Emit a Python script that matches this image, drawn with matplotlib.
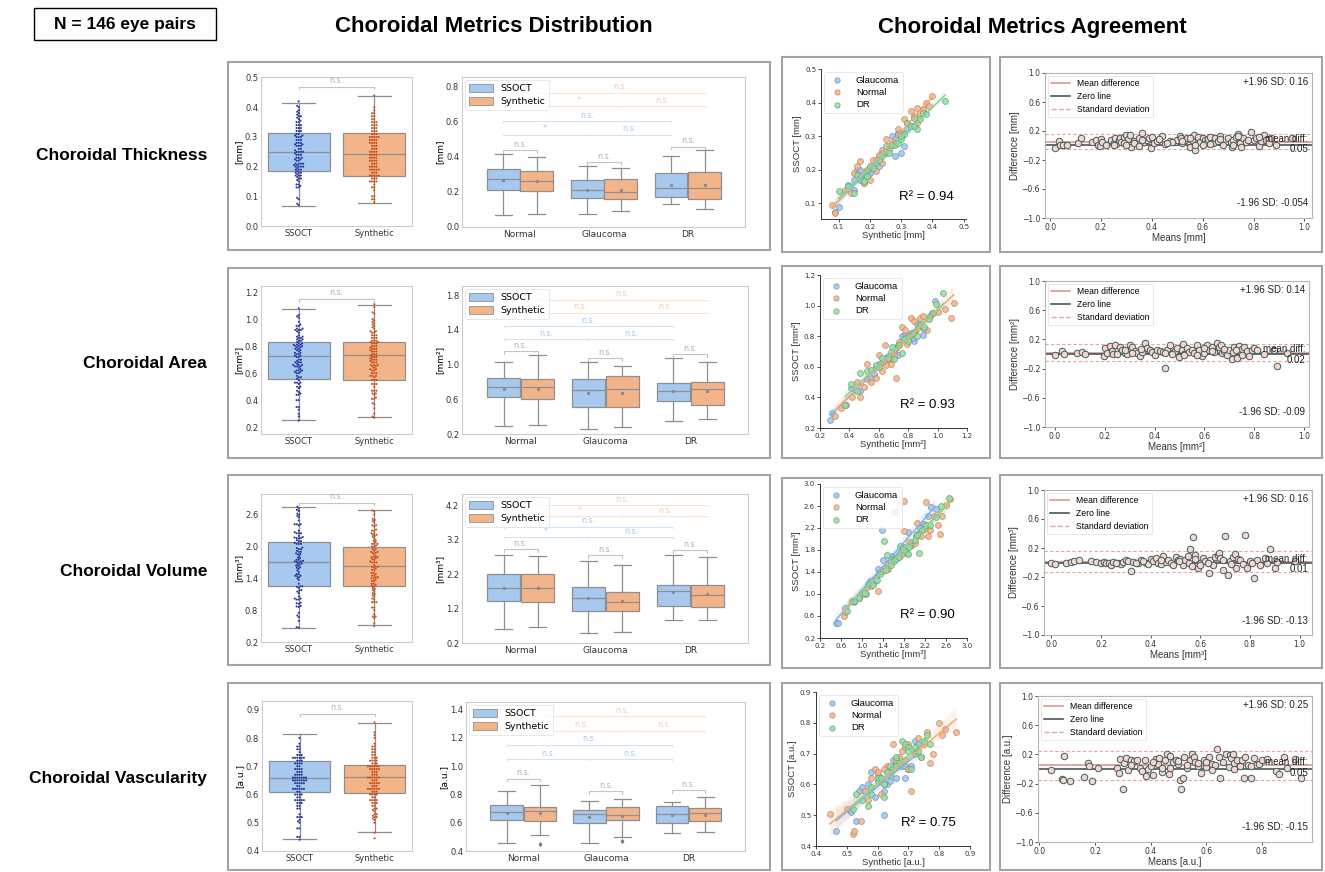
import numpy as np
import pandas as pd
import matplotlib
matplotlib.use('Agg')
import matplotlib.pyplot as plt
import seaborn as sns
from matplotlib.patches import Rectangle, Patch
from matplotlib.lines import Line2D

W, H = 1325, 872
plt.rcParams['font.family'] = ['DejaVu Sans']
ARIAL = ['Liberation Sans', 'DejaVu Sans']

metrics = ['Choroidal Thickness', 'Choroidal Area', 'Choroidal Volume', 'Choroidal Vascularity']
units = ['[mm]', '[mm²]', '[mm³]', '[a.u.]']
r2_vals = ['0.94', '0.93', '0.90', '0.75']
groups = ['Normal', 'Glaucoma', 'DR']
sc_groups = ['Glaucoma', 'Normal', 'DR']

# ---- agreement scatter: (synthetic, ssoct) per eye ----
thk_pts = {
    'Glaucoma': [(0.09,0.075),(0.10,0.09),(0.13,0.155),(0.15,0.14),(0.16,0.20),(0.17,0.17),(0.18,0.16),(0.19,0.19),(0.20,0.205),(0.21,0.21),(0.22,0.225),(0.23,0.21),(0.24,0.26),(0.25,0.25),(0.26,0.27),(0.27,0.30),(0.28,0.24),(0.29,0.31),(0.30,0.25),(0.31,0.27),(0.32,0.32),(0.15,0.17),(0.19,0.18),(0.22,0.23),(0.25,0.255),(0.28,0.29),(0.17,0.20),(0.29,0.305),(0.33,0.33),(0.20,0.19)],
    'Normal': [(0.08,0.095),(0.09,0.07),(0.12,0.14),(0.14,0.13),(0.15,0.19),(0.16,0.21),(0.17,0.225),(0.18,0.16),(0.19,0.20),(0.20,0.17),(0.21,0.23),(0.22,0.195),(0.23,0.24),(0.24,0.25),(0.25,0.29),(0.26,0.26),(0.27,0.28),(0.28,0.28),(0.29,0.32),(0.30,0.30),(0.31,0.35),(0.32,0.34),(0.33,0.375),(0.34,0.36),(0.35,0.385),(0.36,0.37),(0.37,0.38),(0.38,0.40),(0.39,0.39),(0.40,0.42),(0.17,0.18),(0.23,0.245),(0.30,0.31),(0.35,0.34),(0.24,0.22)],
    'DR': [(0.10,0.135),(0.13,0.15),(0.15,0.13),(0.16,0.185),(0.17,0.175),(0.18,0.165),(0.19,0.18),(0.20,0.21),(0.21,0.205),(0.22,0.22),(0.24,0.24),(0.25,0.27),(0.26,0.25),(0.27,0.275),(0.28,0.275),(0.29,0.28),(0.30,0.29),(0.31,0.305),(0.32,0.34),(0.33,0.33),(0.34,0.355),(0.35,0.32),(0.36,0.35),(0.37,0.37),(0.38,0.365),(0.44,0.405),(0.23,0.23),(0.30,0.30),(0.34,0.33),(0.19,0.20)],
}
area_pts = {
    'Glaucoma': [(0.27,0.25),(0.28,0.30),(0.41,0.46),(0.44,0.45),(0.47,0.44),(0.52,0.52),(0.55,0.53),(0.58,0.60),(0.60,0.62),(0.63,0.63),(0.66,0.67),(0.68,0.65),(0.70,0.70),(0.72,0.73),(0.74,0.75),(0.76,0.80),(0.78,0.81),(0.80,0.78),(0.82,0.82),(0.84,0.77),(0.86,0.88),(0.88,0.87),(0.90,0.81),(0.95,0.93),(0.98,1.03),(0.65,0.66),(0.73,0.68),(0.83,0.79),(0.57,0.55),(0.91,0.85)],
    'Normal': [(0.30,0.28),(0.34,0.33),(0.38,0.35),(0.42,0.40),(0.45,0.50),(0.47,0.40),(0.50,0.47),(0.52,0.62),(0.55,0.50),(0.58,0.53),(0.60,0.68),(0.62,0.57),(0.64,0.74),(0.66,0.65),(0.68,0.62),(0.70,0.68),(0.72,0.53),(0.74,0.76),(0.76,0.86),(0.78,0.84),(0.80,0.80),(0.82,0.92),(0.84,0.90),(0.86,0.85),(0.88,0.92),(0.90,0.93),(0.93,0.84),(0.96,0.95),(1.00,0.96),(1.05,0.98),(1.09,0.92),(1.11,1.02),(0.71,0.72),(0.79,0.75),(0.65,0.61)],
    'DR': [(0.37,0.35),(0.41,0.49),(0.45,0.44),(0.47,0.56),(0.52,0.57),(0.55,0.58),(0.58,0.61),(0.60,0.60),(0.63,0.64),(0.66,0.66),(0.68,0.70),(0.70,0.65),(0.72,0.72),(0.74,0.74),(0.76,0.69),(0.78,0.79),(0.80,0.77),(0.82,0.81),(0.84,0.83),(0.86,0.80),(0.88,0.87),(0.91,0.86),(0.94,0.91),(0.97,0.95),(0.99,1.01),(1.04,1.08),(0.69,0.73),(0.77,0.78),(0.83,0.82),(0.62,0.66)],
}
vol_pts = {
    'Glaucoma': [(0.50,0.47),(0.55,0.48),(0.68,0.75),(0.85,0.86),(1.00,1.02),(1.08,1.00),(1.15,1.24),(1.22,1.22),(1.30,1.45),(1.38,2.16),(1.40,1.61),(1.50,1.55),(1.58,1.70),(1.62,2.49),(1.70,1.72),(1.80,1.85),(1.88,2.12),(1.95,1.95),(2.02,2.05),(2.10,2.20),(2.18,2.27),(2.25,2.42),(2.32,2.58),(2.40,2.55),(1.26,1.30),(1.45,1.48),(1.75,1.79),(2.05,2.10),(0.95,0.92),(1.62,1.66)],
    'Normal': [(0.65,0.60),(0.68,0.67),(0.80,0.88),(0.95,0.94),(1.02,1.00),(1.10,1.12),(1.18,1.15),(1.25,1.25),(1.30,1.06),(1.35,1.40),(1.42,1.48),(1.50,1.45),(1.56,1.58),(1.62,1.64),(1.70,1.68),(1.76,1.73),(1.80,2.69),(1.85,1.75),(1.90,1.95),(1.95,1.90),(2.00,1.92),(2.05,2.30),(2.12,2.05),(2.20,2.18),(2.25,2.05),(2.30,2.16),(2.38,2.42),(2.45,2.25),(2.52,2.42),(2.60,2.62),(2.68,2.72),(1.80,2.15),(2.22,2.67),(1.40,1.42),(2.48,2.10)],
    'DR': [(0.72,0.70),(0.85,0.87),(0.95,0.93),(1.05,1.02),(1.12,1.18),(1.20,1.17),(1.28,1.25),(1.35,1.37),(1.42,1.97),(1.48,1.71),(1.55,1.52),(1.60,1.60),(1.65,1.63),(1.72,1.87),(1.78,1.82),(1.82,1.78),(1.88,1.72),(1.92,1.90),(2.00,1.98),(2.08,1.75),(2.15,2.17),(2.22,2.25),(2.30,2.25),(2.40,2.40),(2.50,2.60),(2.66,2.75),(1.45,1.44),(1.70,1.67),(1.90,1.86),(2.05,2.07)],
}
vasc_pts = {
    'Glaucoma': [(0.465,0.45),(0.51,0.52),(0.515,0.51),(0.53,0.48),(0.54,0.58),(0.55,0.59),(0.57,0.60),(0.58,0.64),(0.59,0.56),(0.60,0.61),(0.61,0.62),(0.62,0.50),(0.62,0.58),(0.63,0.60),(0.64,0.61),(0.65,0.68),(0.66,0.67),(0.67,0.66),(0.68,0.66),(0.69,0.62),(0.70,0.65),(0.71,0.66),(0.72,0.74),(0.73,0.73),(0.64,0.64),(0.66,0.62),(0.69,0.66),(0.56,0.58),(0.60,0.63),(0.70,0.65)],
    'Normal': [(0.445,0.505),(0.50,0.52),(0.52,0.44),(0.525,0.45),(0.545,0.48),(0.56,0.58),(0.57,0.55),(0.58,0.62),(0.59,0.65),(0.60,0.64),(0.61,0.57),(0.62,0.60),(0.63,0.66),(0.64,0.64),(0.65,0.73),(0.66,0.67),(0.67,0.69),(0.68,0.71),(0.69,0.72),(0.70,0.73),(0.71,0.58),(0.72,0.71),(0.73,0.75),(0.74,0.69),(0.75,0.73),(0.76,0.77),(0.77,0.67),(0.78,0.70),(0.80,0.80),(0.81,0.76),(0.82,0.78),(0.855,0.77),(0.66,0.68),(0.70,0.65),(0.62,0.65)],
    'DR': [(0.52,0.52),(0.53,0.57),(0.55,0.55),(0.57,0.53),(0.58,0.59),(0.60,0.62),(0.61,0.62),(0.62,0.56),(0.63,0.64),(0.64,0.66),(0.65,0.65),(0.66,0.69),(0.67,0.67),(0.68,0.74),(0.69,0.73),(0.70,0.72),(0.71,0.65),(0.72,0.70),(0.73,0.71),(0.74,0.69),(0.75,0.74),(0.76,0.76),(0.77,0.73),(0.62,0.60),(0.66,0.66),(0.69,0.68),(0.72,0.72),(0.58,0.57),(0.64,0.63),(0.70,0.71)],
}
all_pts = [thk_pts, area_pts, vol_pts, vasc_pts]

# ---- Bland-Altman: (means, difference) ----
ba_thk = [(0.02,-0.03),(0.035,0.06),(0.04,0.0),(0.05,0.0),(0.065,0.0),(0.11,0.04),(0.12,0.11),(0.165,0.05),(0.18,0.08),(0.19,0.0),(0.195,-0.01),(0.20,0.09),(0.205,0.05),(0.22,0.0),(0.24,0.07),(0.25,0.04),(0.255,0.10),(0.26,0.02),(0.27,0.08),(0.275,0.11),(0.28,0.05),(0.29,0.12),(0.30,0.14),(0.305,0.09),(0.31,0.0),(0.315,0.15),(0.32,-0.02),(0.33,0.06),(0.34,0.03),(0.35,0.10),(0.36,0.17),(0.37,0.05),(0.38,0.08),(0.39,0.10),(0.395,-0.03),(0.40,0.12),(0.41,0.04),(0.42,0.06),(0.44,0.13),(0.45,0.02),(0.47,0.06),(0.49,0.05),(0.50,0.07),(0.51,0.13),(0.515,0.10),(0.52,0.03),(0.53,0.07),(0.54,0.10),(0.55,-0.02),(0.56,0.08),(0.565,0.14),(0.57,-0.06),(0.58,0.12),(0.59,0.05),(0.60,0.10),(0.61,0.07),(0.615,0.03),(0.62,0.09),(0.63,0.12),(0.64,0.04),(0.65,0.10),(0.66,0.06),(0.67,0.13),(0.68,0.0),(0.70,0.10),(0.71,0.05),(0.715,-0.02),(0.72,0.08),(0.73,0.12),(0.74,0.16),(0.745,0.03),(0.75,-0.02),(0.76,0.11),(0.77,0.05),(0.78,0.07),(0.79,0.19),(0.80,0.08),(0.81,0.10),(0.82,-0.01),(0.83,0.06),(0.84,0.14),(0.85,0.08),(0.86,0.04),(0.87,0.11),(0.89,0.0),(0.95,0.10),(0.25,0.0),(0.33,0.04),(0.43,0.09),(0.52,0.06),(0.63,0.02),(0.74,0.13),(0.57,0.01),(0.36,0.08),(0.29,0.03),(0.48,0.05),(0.30,0.0),(0.46,0.03),(0.67,0.09),(0.72,0.0),(0.82,0.12),(0.35,-0.01),(0.55,0.11),(0.60,0.0)]
ba_area = [(0.0,-0.01),(0.03,0.04),(0.035,0.0),(0.09,0.02),(0.11,0.03),(0.12,0.0),(0.195,-0.03),(0.20,0.08),(0.21,0.02),(0.22,0.11),(0.23,0.04),(0.235,0.0),(0.24,0.12),(0.26,0.09),(0.27,0.05),(0.28,0.02),(0.29,0.0),(0.30,0.13),(0.305,0.07),(0.31,0.10),(0.32,0.04),(0.33,0.01),(0.34,-0.03),(0.35,0.03),(0.36,0.15),(0.37,0.08),(0.38,0.05),(0.39,0.03),(0.40,-0.02),(0.41,0.06),(0.42,0.04),(0.435,0.03),(0.44,-0.19),(0.45,0.06),(0.46,0.12),(0.47,0.02),(0.48,0.04),(0.49,0.08),(0.50,-0.04),(0.51,0.05),(0.515,0.14),(0.52,0.0),(0.53,0.08),(0.54,0.03),(0.55,0.06),(0.56,0.01),(0.57,0.13),(0.58,0.06),(0.59,-0.03),(0.60,0.02),(0.61,0.13),(0.62,0.05),(0.63,0.09),(0.64,0.03),(0.65,0.15),(0.66,0.10),(0.665,0.12),(0.67,0.02),(0.68,0.04),(0.69,-0.01),(0.70,0.06),(0.71,-0.07),(0.715,0.03),(0.72,0.10),(0.73,-0.06),(0.735,0.08),(0.74,0.11),(0.745,0.02),(0.75,0.07),(0.76,0.09),(0.77,0.04),(0.78,-0.03),(0.79,0.06),(0.80,0.08),(0.81,0.05),(0.84,0.0),(0.88,0.06),(0.89,-0.17),(0.93,0.01),(0.25,0.0),(0.345,0.07),(0.44,0.02),(0.57,-0.02),(0.63,0.04),(0.725,0.05),(0.52,-0.01),(0.31,0.02),(0.68,0.07),(0.47,0.0),(0.60,0.08),(0.75,-0.02),(0.28,0.06)]
ba_vol = [(0.0,0.0),(0.015,-0.02),(0.06,-0.01),(0.08,0.01),(0.09,0.02),(0.11,0.03),(0.16,0.02),(0.18,0.01),(0.20,0.0),(0.21,0.01),(0.22,-0.01),(0.23,0.0),(0.24,-0.03),(0.25,0.01),(0.27,0.0),(0.28,-0.02),(0.29,0.01),(0.30,0.04),(0.31,0.02),(0.32,-0.12),(0.33,0.01),(0.35,-0.01),(0.36,0.03),(0.38,0.0),(0.39,-0.02),(0.40,0.05),(0.41,0.02),(0.42,0.06),(0.43,0.0),(0.44,-0.02),(0.45,0.09),(0.46,0.01),(0.47,0.04),(0.48,-0.01),(0.50,0.07),(0.51,0.03),(0.52,0.05),(0.53,-0.04),(0.54,0.04),(0.55,0.09),(0.555,0.0),(0.56,0.19),(0.565,-0.05),(0.57,0.35),(0.58,0.10),(0.59,-0.08),(0.60,0.0),(0.61,0.06),(0.62,0.02),(0.635,-0.15),(0.64,0.04),(0.65,-0.04),(0.66,0.08),(0.67,0.10),(0.675,0.13),(0.68,0.06),(0.69,-0.10),(0.70,0.37),(0.71,-0.17),(0.72,0.02),(0.73,0.08),(0.74,0.12),(0.745,-0.07),(0.75,0.05),(0.76,0.04),(0.77,-0.02),(0.78,0.38),(0.79,-0.08),(0.80,0.02),(0.815,-0.21),(0.83,0.04),(0.84,-0.04),(0.87,0.0),(0.88,0.18),(0.90,-0.07),(0.91,0.01),(0.98,0.02),(0.26,-0.01),(0.37,0.02),(0.49,-0.03),(0.58,0.05),(0.63,0.0),(0.725,-0.02),(0.86,0.06),(0.515,0.02),(0.44,0.03),(0.60,-0.04),(0.69,0.03),(0.34,0.0),(0.81,0.0)]
ba_vasc = [(0.04,-0.02),(0.08,-0.14),(0.085,-0.15),(0.09,0.18),(0.11,-0.16),(0.16,-0.11),(0.175,0.08),(0.18,0.04),(0.19,-0.17),(0.21,0.01),(0.28,0.02),(0.285,-0.06),(0.29,0.14),(0.30,-0.27),(0.305,0.08),(0.31,0.15),(0.32,-0.01),(0.33,0.12),(0.34,0.11),(0.35,0.13),(0.36,0.02),(0.37,-0.03),(0.38,0.13),(0.385,-0.10),(0.39,0.0),(0.40,0.04),(0.41,-0.08),(0.42,0.14),(0.425,0.07),(0.43,0.15),(0.44,-0.04),(0.45,0.12),(0.46,0.20),(0.465,-0.07),(0.47,0.18),(0.48,0.10),(0.49,0.13),(0.50,0.07),(0.505,-0.15),(0.51,-0.27),(0.515,-0.12),(0.52,0.17),(0.53,0.02),(0.54,0.13),(0.55,0.20),(0.555,0.16),(0.56,0.09),(0.57,0.04),(0.58,-0.05),(0.59,0.12),(0.60,0.03),(0.61,0.17),(0.62,0.07),(0.63,0.05),(0.64,0.27),(0.645,0.16),(0.65,-0.13),(0.66,0.10),(0.67,0.20),(0.68,0.03),(0.685,0.19),(0.69,0.15),(0.695,0.20),(0.70,0.08),(0.71,0.13),(0.72,0.04),(0.73,0.12),(0.735,-0.12),(0.74,0.16),(0.75,0.06),(0.76,-0.12),(0.77,0.15),(0.78,0.05),(0.79,0.07),(0.80,0.13),(0.82,0.14),(0.85,-0.03),(0.86,-0.07),(0.88,0.16),(0.89,0.02),(0.92,0.14),(0.94,-0.12),(0.33,0.06),(0.44,0.02),(0.53,0.05),(0.60,0.10),(0.70,0.0),(0.57,0.08),(0.47,0.01),(0.76,0.04),(0.41,0.09),(0.62,-0.02),(0.50,0.11)]
all_ba = [ba_thk, ba_area, ba_vol, ba_vasc]
ba_mean = [0.05, 0.02, 0.01, 0.05]
ba_hi = [0.16, 0.14, 0.16, 0.25]
ba_lo = [-0.054, -0.09, -0.13, -0.15]
ba_hi_txt = ['0.16', '0.14', '0.16', '0.25']
ba_lo_txt = ['-0.054', '-0.09', '-0.13', '-0.15']
ba_mean_txt = ['0.05', '0.02', '0.01', '0.05']

# ---- box statistics [whislo, q1, med, q3, whishi] ----
box_ssoct = [[0.067,0.185,0.25,0.313,0.416], [0.254,0.56,0.727,0.827,1.077],
             [0.469,1.259,1.71,2.092,2.75], [0.444,0.608,0.658,0.717,0.813]]
box_synth = [[0.076,0.168,0.242,0.313,0.437], [0.278,0.553,0.732,0.832,1.104],
             [0.513,1.265,1.641,1.998,2.694], [0.467,0.605,0.661,0.705,0.854]]
box_ns = [0.469, 1.15, 2.826, 0.886]

# grouped [whislo, q1, med, q3, whishi, mean] for Normal, Glaucoma, DR
grp_ssoct = [
    [[0.067,0.21,0.272,0.33,0.419,0.267], [0.072,0.166,0.21,0.267,0.347,0.213], [0.13,0.171,0.223,0.309,0.404,0.242]],
    [[0.287,0.621,0.738,0.845,1.027,0.72], [0.257,0.515,0.708,0.833,1.027,0.67], [0.355,0.575,0.693,0.791,1.076,0.69]],
    [[0.616,1.411,1.808,2.195,2.767,1.81], [0.481,1.13,1.507,1.827,2.592,1.5], [0.878,1.285,1.72,1.885,2.767,1.68]],
    [[0.454,0.616,0.673,0.725,0.821,0.668], [0.459,0.595,0.659,0.689,0.755,0.642], [0.525,0.595,0.661,0.718,0.746,0.656]],
]
grp_synth = [
    [[0.076,0.204,0.261,0.318,0.402,0.261], [0.091,0.158,0.2,0.272,0.339,0.21], [0.101,0.162,0.223,0.314,0.438,0.242]],
    [[0.299,0.602,0.742,0.837,1.11,0.72], [0.28,0.507,0.723,0.871,0.985,0.678], [0.378,0.537,0.72,0.795,1.034,0.69]],
    [[0.665,1.391,1.808,2.195,2.718,1.8], [0.52,1.13,1.391,1.691,2.457,1.42], [0.878,1.256,1.604,1.895,2.699,1.63]],
    [[0.513,0.612,0.68,0.713,0.864,0.67], [0.501,0.616,0.656,0.708,0.769,0.647], [0.536,0.609,0.666,0.706,0.781,0.656]],
]
grp_fliers_synth = [[[], [], []], [[], [], []], [[], [], []], [[0.452], [0.471], []]]

# significance bracket heights
sig_pair = [[0.438,0.37,0.459], [1.152,1.072,1.121], [2.92,2.747,2.902], [0.911,0.824,0.831]]
sig_ss = [[0.528,0.606], [1.296,1.444], [3.28,3.58], [1.049,1.151]]
sig_sy = [[0.69,0.768], [1.6,1.747], [3.89,4.2], [1.252,1.353]]
sig_txt = [['*','n.s.','n.s.'], ['n.s.','n.s.','n.s.'], ['*','n.s.','n.s.'], ['n.s.','n.s.','n.s.']]

# axis ranges / ticks
box1_ylim = [(0, 0.502), (0.15, 1.245), (0.2, 2.99), (0.4, 0.931)]
box1_ticks = [[0,0.1,0.2,0.3,0.4,0.5], [0.2,0.4,0.6,0.8,1.0,1.2], [0.2,0.8,1.4,2.0,2.6], [0.4,0.5,0.6,0.7,0.8,0.9]]
box2_ylim = [(0, 0.857), (0.2, 1.906), (0.2, 4.53), (0.4, 1.454)]
box2_ticks = [[0,0.2,0.4,0.6,0.8], [0.2,0.6,1.0,1.4,1.8], [0.2,1.2,2.2,3.2,4.2], [0.4,0.6,0.8,1.0,1.2,1.4]]
sc_xlim = [(0.044,0.507), (0.2,1.2), (0.2,3.0), (0.4,0.9)]
sc_ylim = [(0.053,0.5), (0.2,1.2), (0.2,3.0), (0.4,0.9)]
sc_ticks = [[0.1,0.2,0.3,0.4,0.5], [0.2,0.4,0.6,0.8,1.0,1.2], [0.2,0.6,1.0,1.4,1.8,2.2,2.6,3.0], [0.4,0.5,0.6,0.7,0.8,0.9]]
ba_xlim = [(-0.02,1.03), (-0.04,1.02), (-0.03,1.05), (-0.005,0.98)]
ba_xticks = [[0,0.2,0.4,0.6,0.8,1.0]] * 3 + [[0,0.2,0.4,0.6,0.8]]

# pixel layout
box1_px = [(261,77,412,226), (261,286,412,434), (261,494,412,642), (262,701,412,851)]
box2_px = [(462,77,745,227), (462,286,748,434), (462,494,748,643), (466,702,745,851)]
sc_px = [(821,69,966,219), (820,275,967,428), (820,484,967,638), (816,692,970,846)]
ba_px = [(1045,73,1312,218), (1045,281,1309,427), (1044,490,1312,635), (1038,696,1312,842)]
frames = [(228,62,770,250), (228,268,770,458), (228,475,770,665), (228,683,770,870),
          (782,57,990,252), (782,266,990,458), (782,478,990,668), (782,683,990,870),
          (1000,57,1322,252), (1000,266,1322,458), (1000,475,1322,668), (1000,683,1322,870)]
row_label_y = [156, 363, 571, 778]

C_SS, C_SY = '#a7c9f0', '#f4b48a'
C_EDGE = '#8f8f8f'
sc_face = {'Glaucoma': '#9fc4ec', 'Normal': '#f2b48a', 'DR': '#95dea6'}
sc_edge = {'Glaucoma': '#6d94c4', 'Normal': '#bf8a63', 'DR': '#5fa872'}
sc_line = {'Glaucoma': '#82b4e8', 'Normal': '#f5a673', 'DR': '#7fd894'}

fig = plt.figure(figsize=(W / 100, H / 100), dpi=100)


def add_ax(x0, y0, x1, y1):
    return fig.add_axes([x0 / W, 1 - y1 / H, (x1 - x0) / W, (y1 - y0) / H])


def soft_spines(ax, color='#cccccc'):
    for s in ax.spines.values():
        s.set_color(color)
        s.set_linewidth(0.8)


def bracket(ax, x1, x2, y, leg, txt, lc, tc):
    ax.plot([x1, x1, x2, x2], [y - leg, y, y, y - leg], color=lc, lw=0.8, zorder=1)
    ax.annotate(txt, ((x1 + x2) / 2, y), xytext=(0, 1), textcoords='offset points',
                ha='center', va='bottom', fontsize=5.8, color=tc)


def stats(v, label, mean=None, fliers=()):
    d = dict(whislo=v[0], q1=v[1], med=v[2], q3=v[3], whishi=v[4], fliers=list(fliers), label=label)
    if mean is not None:
        d['mean'] = mean
    return d


box_kw = dict(patch_artist=True,
              boxprops=dict(edgecolor=C_EDGE, linewidth=0.9),
              whiskerprops=dict(color=C_EDGE, linewidth=0.9),
              capprops=dict(color=C_EDGE, linewidth=0.9),
              medianprops=dict(color=C_EDGE, linewidth=0.9),
              flierprops=dict(marker='d', markersize=1.8, markerfacecolor='#777777', markeredgecolor='#777777'))

for r in range(4):
    pts = all_pts[r]
    ss_vals = [p[1] for g in sc_groups for p in pts[g]]
    sy_vals = [p[0] for g in sc_groups for p in pts[g]]
    rng1 = box1_ylim[r][1] - box1_ylim[r][0]
    rng2 = box2_ylim[r][1] - box2_ylim[r][0]

    # --- panel 1: overall box + swarm
    ax = add_ax(*box1_px[r])
    bp = ax.bxp([stats(box_ssoct[r], 'SSOCT'), stats(box_synth[r], 'Synthetic')], positions=[0, 1],
                widths=0.82, capwidths=0.44, showfliers=False, **box_kw)
    for patch, c in zip(bp['boxes'], [C_SS, C_SY]):
        patch.set_facecolor(c)
    df = pd.DataFrame({'src': ['SSOCT'] * len(ss_vals) + ['Synthetic'] * len(sy_vals),
                       'val': ss_vals + sy_vals})
    sns.swarmplot(data=df, x='src', y='val', hue='src', palette={'SSOCT': '#26399a', 'Synthetic': '#c4521c'},
                  size=1.5, ax=ax, legend=False, zorder=3)
    bracket(ax, 0, 1, box_ns[r], 0.018 * rng1, 'n.s.', '#c4c4c4', '#b0b0b0')
    ax.set_xlim(-0.5, 1.5)
    ax.set_ylim(*box1_ylim[r])
    ax.set_yticks(box1_ticks[r])
    ax.set_xticks([0, 1], ['SSOCT', 'Synthetic'])
    ax.set_xlabel('')
    ax.set_ylabel(units[r], fontsize=6.5, labelpad=1)
    ax.tick_params(labelsize=6, length=0, pad=2, colors='#333333')
    soft_spines(ax)

    # --- panel 2: grouped box
    ax = add_ax(*box2_px[r])
    st_ss = [stats(grp_ssoct[r][i][:5], g, grp_ssoct[r][i][5]) for i, g in enumerate(groups)]
    st_sy = [stats(grp_synth[r][i][:5], g, grp_synth[r][i][5], grp_fliers_synth[r][i]) for i, g in enumerate(groups)]
    mean_kw = dict(marker='o', markersize=1.4, markerfacecolor='#8a8a8a', markeredgecolor='#8a8a8a')
    b1 = ax.bxp(st_ss, positions=[-0.2, 0.8, 1.8], widths=0.39, capwidths=0.2, showmeans=True,
                meanprops=mean_kw, **box_kw)
    b2 = ax.bxp(st_sy, positions=[0.2, 1.2, 2.2], widths=0.39, capwidths=0.2, showmeans=True,
                meanprops=mean_kw, **box_kw)
    for p in b1['boxes']:
        p.set_facecolor(C_SS)
    for p in b2['boxes']:
        p.set_facecolor(C_SY)
    for i in range(3):
        bracket(ax, i - 0.2, i + 0.2, sig_pair[r][i], 0.018 * rng2, 'n.s.', '#c4c4c4', '#b0b0b0')
    lg = 0.006 * rng2
    bracket(ax, -0.2, 0.8, sig_ss[r][0], lg, sig_txt[r][0], '#d3e3f5', '#a9c6ea')
    bracket(ax, 0.8, 1.8, sig_ss[r][0], lg, sig_txt[r][1], '#d3e3f5', '#a9c6ea')
    bracket(ax, -0.2, 1.8, sig_ss[r][1], lg, sig_txt[r][2], '#d3e3f5', '#a9c6ea')
    bracket(ax, 0.2, 1.2, sig_sy[r][0], lg, sig_txt[r][0], '#fde2cd', '#f7cba8')
    bracket(ax, 1.2, 2.2, sig_sy[r][0], lg, sig_txt[r][1], '#fde2cd', '#f7cba8')
    bracket(ax, 0.2, 2.2, sig_sy[r][1], lg, sig_txt[r][2], '#fde2cd', '#f7cba8')
    ax.set_xlim(-0.69, 2.68)
    ax.set_ylim(*box2_ylim[r])
    ax.set_yticks(box2_ticks[r])
    ax.set_xticks([0, 1, 2], groups)
    ax.set_ylabel(units[r], fontsize=6.5, labelpad=1)
    ax.tick_params(axis='x', labelsize=6.5, length=0, pad=2, colors='#333333')
    ax.tick_params(axis='y', labelsize=6, length=0, pad=2, colors='#333333')
    soft_spines(ax)
    leg = ax.legend(handles=[Patch(fc=C_SS, ec=C_EDGE, lw=0.6, label='SSOCT'),
                             Patch(fc=C_SY, ec=C_EDGE, lw=0.6, label='Synthetic')],
                    loc='upper left', fontsize=6.8, frameon=True, borderpad=0.4,
                    handlelength=2.6, handleheight=1.0, borderaxespad=0.3, labelspacing=0.4)
    leg.get_frame().set_edgecolor('#dddddd')
    leg.get_frame().set_linewidth(0.6)

    # --- panel 3: agreement scatter
    ax = add_ax(*sc_px[r])
    for g in sc_groups:
        arr = np.array(pts[g])
        ax.scatter(arr[:, 0], arr[:, 1], s=18, fc=sc_face[g], ec=sc_edge[g], lw=0.6, alpha=0.85,
                   label=g, zorder=3)
    for g in sc_groups:
        arr = np.array(pts[g])
        sns.regplot(x=arr[:, 0], y=arr[:, 1], ax=ax, scatter=False, ci=95, seed=0, truncate=True,
                    color=sc_line[g], line_kws=dict(lw=1.1, zorder=4))
    ax.set_xlim(*sc_xlim[r])
    ax.set_ylim(*sc_ylim[r])
    ax.set_xticks(sc_ticks[r])
    ax.set_yticks(sc_ticks[r])
    ax.set_xlabel('Synthetic ' + units[r], fontsize=6.8, family=ARIAL, labelpad=1, color='#333333')
    ax.set_ylabel('SSOCT ' + units[r], fontsize=6.8, family=ARIAL, labelpad=2, color='#333333')
    ax.tick_params(labelsize=5, length=2, width=0.6, pad=1.5, colors='#333333')
    ax.spines['top'].set_visible(False)
    ax.spines['right'].set_visible(False)
    for s in ['left', 'bottom']:
        ax.spines[s].set_color('#333333')
        ax.spines[s].set_linewidth(0.7)
    ax.text(0.73, 0.15, 'R² = ' + r2_vals[r], transform=ax.transAxes, ha='center', va='center',
            fontsize=9.5, family=ARIAL)
    leg = ax.legend(loc='upper left', prop={'family': ARIAL, 'size': 6.8}, frameon=True,
                    handletextpad=1.0, borderpad=0.4, labelspacing=0.35, markerscale=0.9,
                    borderaxespad=0.3)
    leg.get_frame().set_edgecolor('#dddddd')
    leg.get_frame().set_linewidth(0.6)

    # --- panel 4: Bland-Altman
    ax = add_ax(*ba_px[r])
    arr = np.array(all_ba[r])
    ax.scatter(arr[:, 0], arr[:, 1], s=22, fc='#f7d4cf', ec='#3f5e58', lw=0.7, zorder=3)
    ax.axhline(ba_mean[r], color='#d99a95', lw=1.2, zorder=2)
    ax.axhline(0, color='#4b5654', lw=1.2, zorder=2)
    ax.axhline(ba_hi[r], color='#e5a5a2', lw=0.8, ls='--', dashes=(3, 2), zorder=2)
    ax.axhline(ba_lo[r], color='#e5a5a2', lw=0.8, ls='--', dashes=(3, 2), zorder=2)
    ax.set_xlim(*ba_xlim[r])
    ax.set_ylim(-1, 1)
    ax.set_yticks([-1.0, -0.6, -0.2, 0.2, 0.6, 1.0])
    ax.set_xticks(ba_xticks[r])
    ax.set_xlabel('Means ' + units[r], fontsize=7, family=ARIAL, labelpad=1, color='#333333')
    ax.set_ylabel('Difference ' + units[r], fontsize=7, family=ARIAL, labelpad=1, color='#333333')
    ax.tick_params(labelsize=5.5, length=2, width=0.6, pad=1.5, colors='#333333')
    soft_spines(ax, '#b5b5b5')
    tk = dict(transform=ax.transAxes, ha='right', fontsize=7, family=ARIAL, color='#222222')
    ax.text(0.985, 0.94, '+1.96 SD: ' + ba_hi_txt[r], va='center', **tk)
    ax.text(0.985, 0.10, '-1.96 SD: ' + ba_lo_txt[r], va='center', **tk)
    ax.text(0.985, ba_mean[r] - 0.03, 'mean diff:\n' + ba_mean_txt[r], transform=ax.get_yaxis_transform(),
            ha='right', va='center', fontsize=7, family=ARIAL, color='#222222', linespacing=1.1)
    leg = ax.legend(handles=[Line2D([], [], color='#d99a95', lw=1.2, label='Mean difference'),
                             Line2D([], [], color='#4b5654', lw=1.2, label='Zero line'),
                             Line2D([], [], color='#e5a5a2', lw=1.0, ls='--', label='Standard deviation')],
                    loc='upper left', prop={'family': ARIAL, 'size': 6.2}, frameon=True,
                    borderpad=0.4, labelspacing=0.45, handlelength=2.2, borderaxespad=0.3)
    leg.get_frame().set_edgecolor('#dddddd')
    leg.get_frame().set_linewidth(0.6)

    fig.text(207 / W, 1 - row_label_y[r] / H, metrics[r], ha='right', va='center', fontsize=12.5,
             fontweight='bold', family=ARIAL)

for (x0, y0, x1, y1) in frames:
    fig.patches.append(Rectangle((x0 / W, 1 - y1 / H), (x1 - x0) / W, (y1 - y0) / H,
                                 transform=fig.transFigure, fill=False, ec='#a3a3a3', lw=1.5))

fig.patches.append(Rectangle((34 / W, 1 - 40 / H), 182 / W, 32 / H, transform=fig.transFigure,
                             fill=False, ec='black', lw=1.0))
fig.text(125 / W, 1 - 24 / H, 'N = 146 eye pairs', ha='center', va='center', fontsize=12.5,
         fontweight='bold', family=ARIAL)
fig.text(494 / W, 1 - 27 / H, 'Choroidal Metrics Distribution', ha='center', va='center',
         fontsize=16, fontweight='bold', family=ARIAL)
fig.text(1032 / W, 1 - 27 / H, 'Choroidal Metrics Agreement', ha='center', va='center',
         fontsize=16, fontweight='bold', family=ARIAL)

fig.savefig('out.png', dpi=100)
